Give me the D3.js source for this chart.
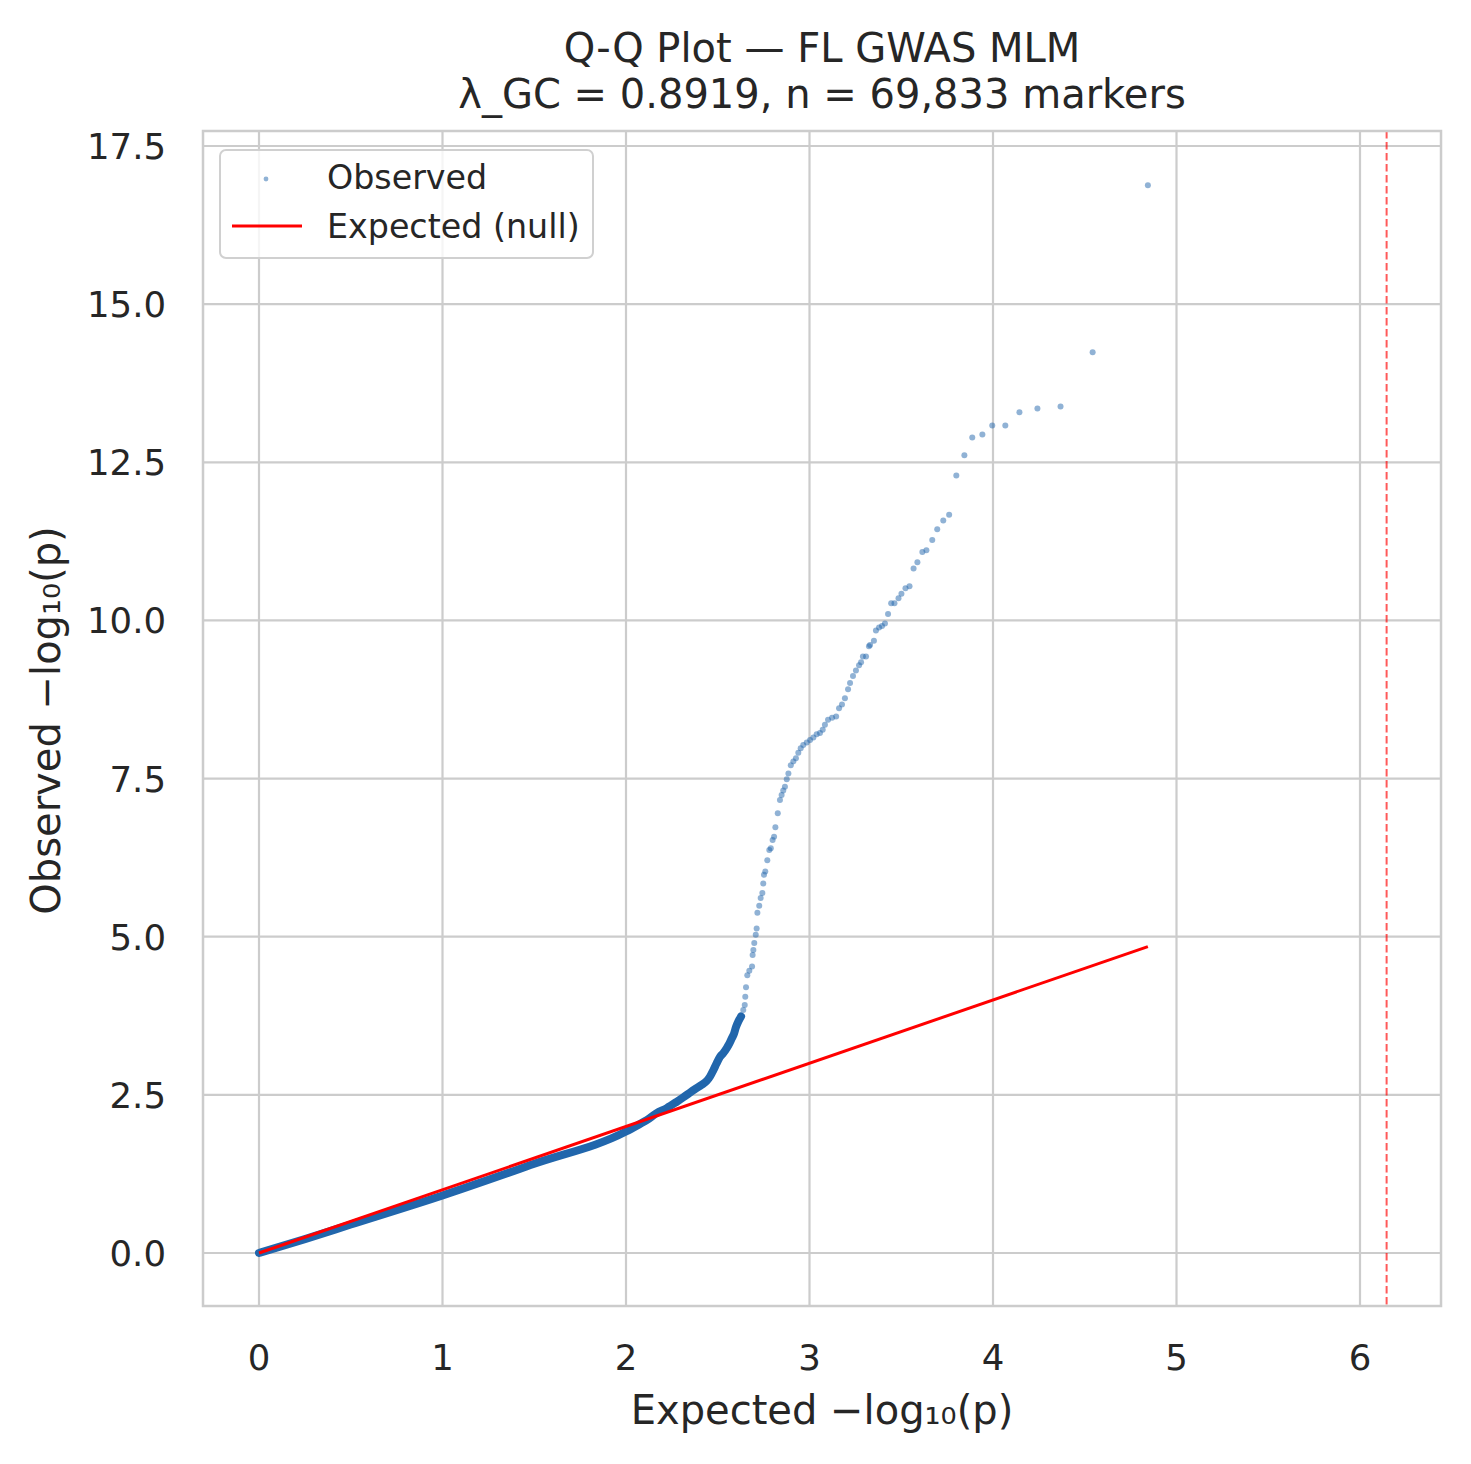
<!DOCTYPE html>
<html>
<head>
<meta charset="utf-8">
<script src="https://cdn.jsdelivr.net/npm/d3@7"></script>
<style>
  html, body { margin: 0; padding: 0; background: #fff; }
  svg { display: block; font-family: "DejaVu Sans", sans-serif; }
</style>
</head>
<body>
<div id="chart"></div>
<script>
// Title / labels
const titleLines = ["Q-Q Plot \u2014 FL GWAS MLM", "\u03bb_GC = 0.8919, n = 69,833 markers"];
const xLabel = "Expected \u2212log\u2081\u2080(p)";
const yLabel = "Observed \u2212log\u2081\u2080(p)";

// Tick values
const xTicks = [0, 1, 2, 3, 4, 5, 6];
const yTicks = [0, 2.5, 5, 7.5, 10, 12.5, 15, 17.5];

// Bonferroni-style threshold (vertical dashed line), expected-axis units
const thresholdX = 6.145;
// Expected (null) diagonal: from 0 to max expected
const nullLine = [0, 4.844];

// Dense body of the Q-Q curve (thousands of overlapping markers)
const bandExpected = [0, 0.25, 0.5, 1.0, 1.5, 2.0, 2.076, 2.113, 2.167, 2.222, 2.276, 2.331, 2.376, 2.413, 2.440,
  2.458, 2.476, 2.494, 2.512, 2.530, 2.549, 2.563, 2.576, 2.589, 2.599, 2.612, 2.627];
const bandObserved = [0, 0.22, 0.45, 0.91, 1.41, 1.92, 2.04, 2.10, 2.21, 2.29, 2.39, 2.50, 2.59, 2.66, 2.72,
  2.79, 2.89, 3.00, 3.10, 3.16, 3.24, 3.31, 3.39, 3.47, 3.57, 3.66, 3.74];

// Individual markers in the upper tail
const tailExpected = [4.844, 4.543, 4.368, 4.242, 4.144, 4.067, 3.996, 3.942, 3.887, 3.844, 3.800, 3.761, 3.729,
  3.696, 3.669, 3.637, 3.615, 3.588, 3.567, 3.545, 3.523, 3.501, 3.485, 3.463, 3.445, 3.428, 3.411, 3.395,
  3.379, 3.362, 3.351, 3.330, 3.324, 3.308, 3.291, 3.281, 3.270, 3.253, 3.237, 3.221, 3.210, 3.193, 3.177,
  3.161, 3.145, 3.123, 3.101, 3.084, 3.072, 3.057, 3.039, 3.021, 3.003, 2.985, 2.966, 2.952, 2.939, 2.926,
  2.912, 2.898, 2.885, 2.876, 2.866, 2.857, 2.848, 2.839, 2.827, 2.814, 2.807, 2.799, 2.789, 2.781, 2.770,
  2.759, 2.752, 2.748, 2.743, 2.734, 2.726, 2.716, 2.712, 2.707, 2.699, 2.694, 2.690, 2.687, 2.672, 2.661,
  2.654, 2.650, 2.647, 2.639, 2.627, 2.612, 2.599, 2.589];
const tailObserved = [16.88, 14.24, 13.38, 13.35, 13.29, 13.08, 13.08, 12.94, 12.89, 12.61, 12.29, 11.67, 11.58,
  11.44, 11.27, 11.11, 11.08, 10.92, 10.82, 10.54, 10.51, 10.42, 10.35, 10.27, 10.27, 10.10, 9.95, 9.91,
  9.89, 9.84, 9.68, 9.61, 9.59, 9.43, 9.43, 9.34, 9.29, 9.21, 9.12, 9.01, 8.91, 8.77, 8.67,
  8.61, 8.48, 8.46, 8.43, 8.35, 8.27, 8.22, 8.20, 8.15, 8.11, 8.07, 8.03, 7.98, 7.91, 7.82,
  7.77, 7.71, 7.58, 7.49, 7.37, 7.31, 7.24, 7.16, 6.95, 6.73, 6.58, 6.53, 6.40, 6.37, 6.21,
  6.03, 5.98, 5.84, 5.69, 5.61, 5.49, 5.38, 5.13, 5.03, 4.90, 4.79, 4.71, 4.53, 4.46, 4.39,
  4.20, 4.05, 3.92, 3.84, 3.74, 3.66, 3.57, 3.47];

const W = 1471, H = 1464;
const plot = { left: 203, right: 1441, top: 131, bottom: 1306 };
const textColor = "#262626";
const gridColor = "#cccccc";
const pointColor = "#2166ac";

const svg = d3.select("#chart").append("svg")
  .attr("width", W).attr("height", H);

svg.append("rect").attr("width", W).attr("height", H).attr("fill", "#fff");

const x = d3.scaleLinear().domain([-0.3052, 6.4414]).range([plot.left, plot.right]);
const y = d3.scaleLinear().domain([-0.838, 17.737]).range([plot.bottom, plot.top]);

// grid
const grid = svg.append("g");
grid.selectAll("line.vx").data(xTicks).join("line")
  .attr("x1", d => x(d)).attr("x2", d => x(d))
  .attr("y1", plot.top).attr("y2", plot.bottom)
  .attr("stroke", gridColor).attr("stroke-width", 2.2);
grid.selectAll("line.hy").data(yTicks).join("line")
  .attr("y1", d => y(d)).attr("y2", d => y(d))
  .attr("x1", plot.left).attr("x2", plot.right)
  .attr("stroke", gridColor).attr("stroke-width", 2.2);

// clip
svg.append("clipPath").attr("id", "clip").append("rect")
  .attr("x", plot.left).attr("y", plot.top)
  .attr("width", plot.right - plot.left).attr("height", plot.bottom - plot.top);

const g = svg.append("g").attr("clip-path", "url(#clip)");

// dense band of observed points
const bandData = bandExpected.map((e, i) => [e, bandObserved[i]]);
g.append("path")
  .datum(bandData)
  .attr("d", d3.line().x(d => x(d[0])).y(d => y(d[1])).curve(d3.curveMonotoneX))
  .attr("fill", "none")
  .attr("stroke", pointColor)
  .attr("stroke-width", 8)
  .attr("stroke-linecap", "round")
  .attr("stroke-linejoin", "round");

// tail markers
const tailData = tailExpected.map((e, i) => [e, tailObserved[i]]);
g.selectAll("circle.pt").data(tailData).join("circle")
  .attr("cx", d => x(d[0])).attr("cy", d => y(d[1]))
  .attr("r", 3)
  .attr("fill", pointColor)
  .attr("fill-opacity", 0.5);

// expected null line
g.append("line")
  .attr("x1", x(nullLine[0])).attr("y1", y(nullLine[0]))
  .attr("x2", x(nullLine[1])).attr("y2", y(nullLine[1]))
  .attr("stroke", "#ff0000").attr("stroke-width", 3);

// threshold
g.append("line")
  .attr("x1", x(thresholdX)).attr("x2", x(thresholdX))
  .attr("y1", plot.top).attr("y2", plot.bottom)
  .attr("stroke", "#ff0000").attr("stroke-opacity", 0.65)
  .attr("stroke-width", 2).attr("stroke-dasharray", "7.5,3.5");

// frame
svg.append("rect")
  .attr("x", plot.left).attr("y", plot.top)
  .attr("width", plot.right - plot.left).attr("height", plot.bottom - plot.top)
  .attr("fill", "none").attr("stroke", gridColor).attr("stroke-width", 2.5);

// tick labels
svg.append("g").selectAll("text").data(xTicks).join("text")
  .attr("x", d => x(d)).attr("y", 1370)
  .attr("text-anchor", "middle")
  .attr("font-size", 35.5).attr("fill", textColor)
  .text(d => d3.format("d")(d));

svg.append("g").selectAll("text").data(yTicks).join("text")
  .attr("x", 166).attr("y", d => y(d) + 13)
  .attr("text-anchor", "end")
  .attr("font-size", 35.5).attr("fill", textColor)
  .text(d => d3.format(".1f")(d));

// axis labels
svg.append("text")
  .attr("x", (plot.left + plot.right) / 2).attr("y", 1424)
  .attr("text-anchor", "middle")
  .attr("font-size", 40).attr("fill", textColor)
  .text(xLabel);

svg.append("text")
  .attr("transform", `translate(60, ${(plot.top + plot.bottom) / 2 + 2}) rotate(-90)`)
  .attr("text-anchor", "middle")
  .attr("font-size", 40).attr("fill", textColor)
  .text(yLabel);

// title
svg.append("g").selectAll("text").data(titleLines).join("text")
  .attr("x", (plot.left + plot.right) / 2)
  .attr("y", (d, i) => 62 + i * 46)
  .attr("text-anchor", "middle")
  .attr("font-size", 40).attr("fill", textColor)
  .text(d => d);

// legend
const lg = svg.append("g");
lg.append("rect")
  .attr("x", 220).attr("y", 150).attr("width", 373).attr("height", 108)
  .attr("rx", 6).attr("fill", "#fff").attr("fill-opacity", 0.8)
  .attr("stroke", "#d0d0d0").attr("stroke-width", 2);
lg.append("circle").attr("cx", 266).attr("cy", 179).attr("r", 2.4)
  .attr("fill", pointColor).attr("fill-opacity", 0.5);
lg.append("line").attr("x1", 232).attr("x2", 302).attr("y1", 226).attr("y2", 226)
  .attr("stroke", "#ff0000").attr("stroke-width", 3);
lg.append("text").attr("x", 327).attr("y", 189)
  .attr("font-size", 33.3).attr("fill", textColor).text("Observed");
lg.append("text").attr("x", 327).attr("y", 238)
  .attr("font-size", 33.3).attr("fill", textColor).text("Expected (null)");
</script>
</body>
</html>
